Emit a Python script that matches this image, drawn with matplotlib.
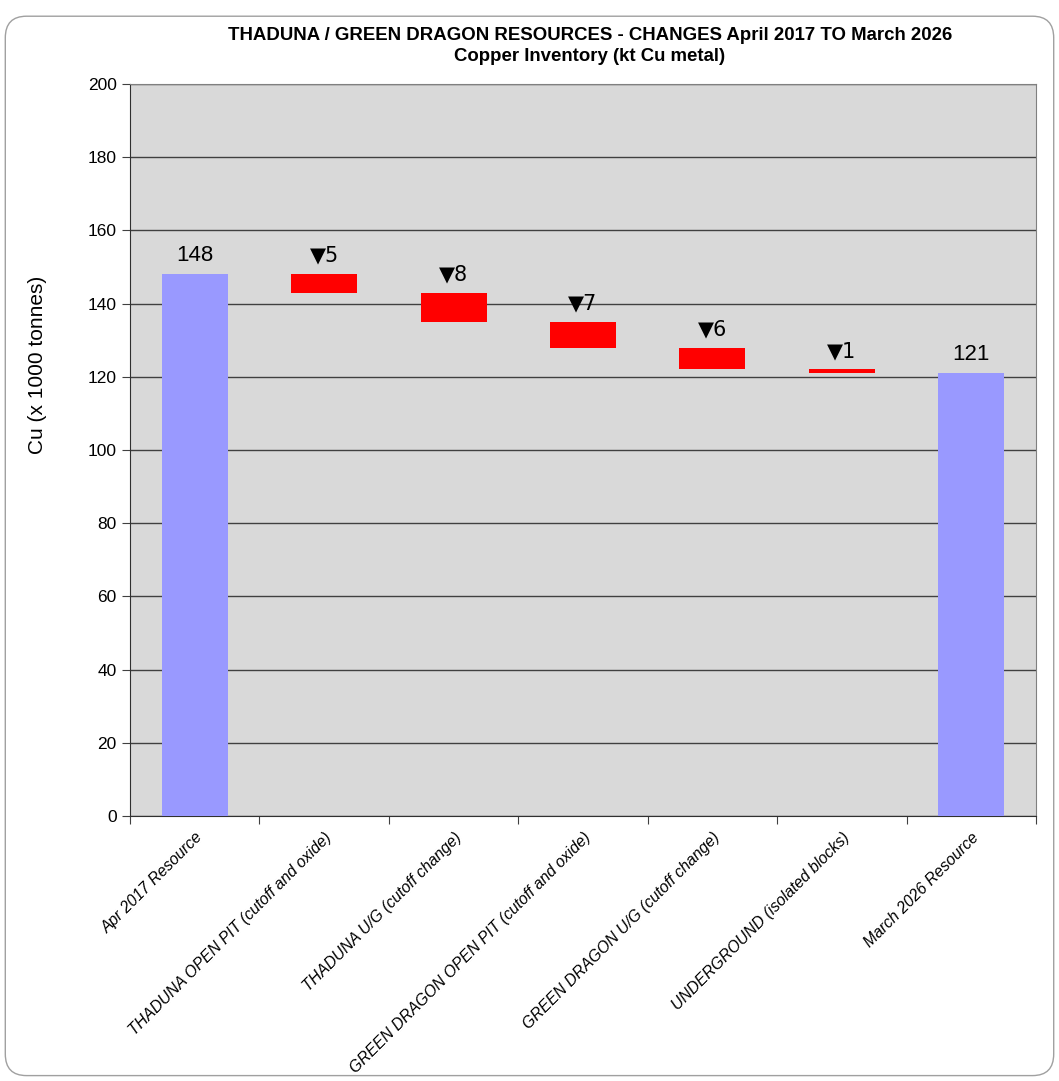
import numpy as np
import matplotlib.pyplot as plt
from matplotlib.patches import FancyBboxPatch

plt.rcParams['font.family'] = ['Liberation Sans', 'DejaVu Sans']

categories = ["Apr 2017 Resource",
              "THADUNA OPEN PIT (cutoff and oxide)",
              "THADUNA U/G (cutoff change)",
              "GREEN DRAGON OPEN PIT (cutoff and oxide)",
              "GREEN DRAGON U/G (cutoff change)",
              "UNDERGROUND (isolated blocks)",
              "March 2026 Resource"]
start_total = 148
changes = [-5, -8, -7, -6, -1]
end_total = 121

fig = plt.figure(figsize=(10.59, 10.81), dpi=100)
ax = fig.add_axes([130 / 1059, 1 - 816 / 1081, 906 / 1059, 732 / 1081])

# rounded frame around the whole chart
frame = FancyBboxPatch((0.005, 0.005), 0.99, 0.98, boxstyle="round,pad=0,rounding_size=0.02",
                       transform=fig.transFigure, fill=False, edgecolor='#a0a0a0', linewidth=1)
fig.patches.append(frame)

ax.set_facecolor('#d9d9d9')
x = np.arange(len(categories))
blue = '#9999ff'
red = '#ff0000'
bw = 0.51

# totals
ax.bar(x[0], start_total, width=bw, color=blue, zorder=3)
ax.bar(x[-1], end_total, width=bw, color=blue, zorder=3)
ax.text(x[0], start_total + 2.3, str(start_total), ha='center', va='bottom', fontsize=16)
ax.text(x[-1], end_total + 2.3, str(end_total), ha='center', va='bottom', fontsize=16)

# changes
level = start_total
for i, c in enumerate(changes):
    xi = x[i + 1]
    bottom = level + c
    ax.bar(xi, -c, bottom=bottom, width=bw, color=red, zorder=3)
    ax.text(xi, level + 2.3, "\u25bc" + str(-c), ha='center', va='bottom', fontsize=15,
            family=['DejaVu Sans'])
    level = bottom

ax.set_xlim(-0.5, len(categories) - 0.5)
ax.set_ylim(0, 200)
ax.set_yticks(np.arange(0, 201, 20))
ax.yaxis.grid(True, color='#404040', linewidth=1)
ax.set_axisbelow(True)

ax.set_xticks(np.arange(-0.5, len(categories), 1))
ax.set_xticklabels([])
ax.set_xticks(x, minor=True)
ax.set_xticklabels(categories, minor=True, rotation=45, ha='right', rotation_mode='anchor',
                   fontsize=11.3, style='italic')
ax.tick_params(axis='x', which='minor', length=0, pad=10)
ax.tick_params(axis='x', which='major', length=6, color='#404040')
ax.tick_params(axis='y', labelsize=12.5, length=6, color='#404040')

for s in ['top', 'right']:
    ax.spines[s].set_color('#808080')
ax.spines['left'].set_color('#303030')
ax.spines['bottom'].set_color('#303030')

ax.set_ylabel("Cu (x 1000 tonnes)", fontsize=15)
ax.yaxis.set_label_coords(-0.0915, 0.616)

fig.text(0.557, 0.9676, "THADUNA / GREEN DRAGON RESOURCES - CHANGES April 2017 TO March 2026",
         ha='center', va='center', fontsize=13.4, fontweight='bold')
fig.text(0.557, 0.9473, "Copper Inventory (kt Cu metal)",
         ha='center', va='center', fontsize=13.4, fontweight='bold')

fig.savefig("out.png", dpi=100)
